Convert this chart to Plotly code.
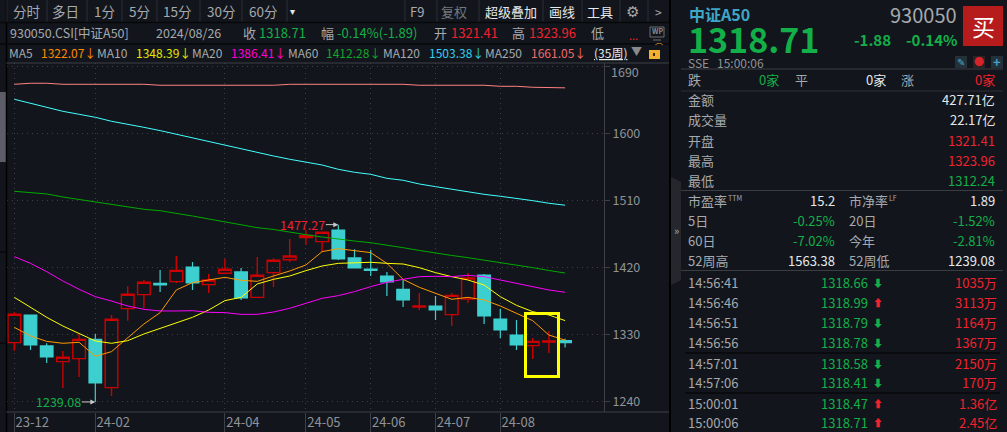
import plotly.graph_objects as go

WIDTH = 1007
HEIGHT = 432

BG = "#12161c"
GRID = "#3c4046"
AXIS = "#3d3f44"
GRAY = "#8f9398"
LABEL = "#a6a9ad"
WHITE = "#e6e8ea"
RED = "#f0222e"
GREEN = "#13b04a"
CANDLE_RED = "#cc0000"
CANDLE_CYAN = "#3dcfcf"
FONT = "Noto Sans CJK SC"

# weekly candles, 35 weeks
weeks = list(range(35))
opens = [1318.75, 1355.9, 1314.3, 1293.2, 1297.3, 1323.2, 1258.3, 1364.4, 1383.2, 1398.5, 1400.7, 1420.4,
         1396.7, 1411.9, 1413.7, 1379.6, 1412.8, 1430.2, 1459.8, 1454.4, 1470.1, 1432.5, 1417.7, 1408.3,
         1390.4, 1366.7, 1368.0, 1356.4, 1377.4, 1409.6, 1350.5, 1329.0, 1314.7, 1319.6, 1321.41]
highs = [1359.5, 1355.9, 1317.9, 1307.6, 1330.4, 1330.4, 1355.9, 1394.4, 1402.9, 1416.4, 1435.2, 1427.1,
         1411.0, 1431.6, 1419.1, 1433.8, 1432.0, 1458.0, 1470.1, 1467.0, 1477.27, 1444.1, 1443.2, 1413.7,
         1402.9, 1385.5, 1381.4, 1385.5, 1412.3, 1411.0, 1364.0, 1349.2, 1325.0, 1334.4, 1323.96]
lows = [1308.0, 1308.9, 1291.4, 1257.9, 1272.6, 1239.08, 1247.1, 1348.3, 1364.9, 1386.8, 1398.9, 1389.5,
        1385.5, 1411.9, 1376.1, 1379.6, 1393.5, 1427.1, 1449.9, 1441.0, 1429.8, 1419.1, 1408.3, 1381.4,
        1366.7, 1362.6, 1349.2, 1341.1, 1372.0, 1343.8, 1325.0, 1308.9, 1296.8, 1304.9, 1312.24]
closes = [1356.81, 1315.6, 1299.5, 1299.1, 1323.2, 1264.6, 1350.1, 1383.7, 1399.8, 1396.2, 1415.9, 1398.9,
          1402.9, 1417.3, 1378.7, 1409.2, 1429.4, 1435.2, 1462.9, 1467.0, 1431.1, 1419.1, 1415.9, 1400.2,
          1376.1, 1368.0, 1362.6, 1382.3, 1405.6, 1354.6, 1335.8, 1315.6, 1320.5, 1321.0, 1318.71]

ma5 = [1339.3, 1327.7, 1320.5, 1317.9, 1319.2, 1300.4, 1306.7, 1324.6, 1343.8, 1359.1, 1389.5, 1399.4,
       1402.9, 1406.5, 1402.5, 1401.1, 1408.3, 1415.0, 1423.1, 1441.0, 1445.0, 1442.3, 1439.7, 1425.3,
       1403.8, 1393.1, 1385.0, 1377.0, 1379.6, 1376.1, 1368.0, 1358.2, 1348.3, 1329.0, 1322.07]
ma10 = [1379.6, 1366.2, 1352.8, 1341.1, 1331.3, 1321.0, 1317.9, 1321.4, 1330.4, 1338.0, 1344.7, 1352.8,
        1362.6, 1375.2, 1379.6, 1397.6, 1403.8, 1408.3, 1415.5, 1421.7, 1425.3, 1426.2, 1426.7, 1425.3,
        1424.4, 1419.5, 1412.8, 1407.4, 1402.9, 1396.2, 1380.5, 1368.9, 1360.4, 1355.9, 1348.39]
ma20 = [1434.3, 1425.3, 1414.1, 1401.6, 1390.4, 1380.5, 1374.7, 1368.0, 1363.5, 1361.3, 1361.3, 1361.7,
        1359.5, 1359.1, 1356.8, 1356.8, 1359.9, 1364.9, 1371.6, 1378.3, 1381.9, 1387.3, 1394.0, 1399.8,
        1403.8, 1407.4, 1407.9, 1407.4, 1409.2, 1407.4, 1402.9, 1398.5, 1394.9, 1389.5, 1386.41]
ma60 = [1522.1, 1520.8, 1518.5, 1514.4, 1511.3, 1508.1, 1504.1, 1501.4, 1497.9, 1496.0, 1492.9, 1488.9,
        1484.9, 1481.3, 1476.8, 1473.2, 1470.8, 1467.8, 1463.8, 1460.7, 1457.6, 1455.3, 1453.0, 1450.0,
        1446.3, 1442.6, 1438.8, 1435.9, 1432.9, 1429.8, 1426.7, 1423.1, 1419.5, 1415.7, 1412.28]
ma120 = [1645.7, 1640.3, 1634.9, 1629.5, 1625.5, 1621.5, 1616.1, 1612.5, 1608.0, 1603.6, 1598.6, 1594.2,
         1588.8, 1583.9, 1578.5, 1573.6, 1569.5, 1565.1, 1561.0, 1557.4, 1551.6, 1547.6, 1544.9, 1539.5,
         1536.9, 1531.9, 1528.3, 1524.8, 1520.7, 1518.0, 1515.4, 1512.7, 1509.5, 1506.0, 1503.38]
ma250 = [1665.8, 1667.2, 1667.2, 1665.8, 1665.8, 1665.8, 1665.8, 1665.8, 1665.8, 1664.5, 1664.5, 1664.5,
         1664.5, 1664.5, 1664.5, 1664.5, 1664.5, 1665.8, 1665.8, 1665.8, 1665.8, 1665.8, 1665.8, 1665.8,
         1665.8, 1664.5, 1664.5, 1664.5, 1664.5, 1664.5, 1663.1, 1663.1, 1661.8, 1661.8, 1661.05]

ma_names = ["MA5", "MA10", "MA20", "MA60", "MA120", "MA250"]
ma_series = [ma5, ma10, ma20, ma60, ma120, ma250]
ma_colors = ["#ff9900", "#ffff00", "#ff00ff", "#00aa00", "#40ffff", "#ff8080"]
ma_text_colors = ["#ff8a00", "#e6e600", "#ff00d0", "#11a52a", "#30d0f0", "#f06a6a"]
ma_name_x = [8, 96, 191, 287, 382, 484]
ma_value_x = [40, 135, 230, 325, 428, 530]

month_ticks = [0, 5, 13, 18, 22, 26, 30]
month_labels = ["23-12", "24-02", "24-04", "24-05", "24-06", "24-07", "24-08"]
price_ticks = [1240, 1330, 1420, 1510, 1600, 1690]
price_labels = ["1240", "1330", "1420", "1510", "1600", ""]

tabs = ["分时", "多日", "1分", "5分", "15分", "30分", "60分"]
tabs_x = [26, 65.5, 104, 139, 177.5, 221, 263.5]
tab_lines = [7, 47, 87, 122, 157, 200, 242, 287, 405, 437, 479, 543, 582, 620, 648]
tools = ["F9", "复权", "超级叠加", "画线", "工具"]
tools_x = [416.5, 454, 511, 561.5, 600]
tools_color = [LABEL, "#75787c", WHITE, WHITE, WHITE]

stat_names = ["金额", "成交量", "开盘", "最高", "最低"]
stat_values = ["427.71亿", "22.17亿", "1321.41", "1323.96", "1312.24"]
stat_colors = [WHITE, WHITE, RED, RED, GREEN]
stat_y = [101, 121, 142, 162, 182]

ratio_left = ["市盈率", "5日", "60日", "52周高"]
ratio_left_values = ["15.2", "-0.25%", "-7.02%", "1563.38"]
ratio_right = ["市净率", "20日", "今年", "52周低"]
ratio_right_values = ["1.89", "-1.52%", "-2.81%", "1239.08"]
ratio_colors = [WHITE, GREEN, GREEN, WHITE]
ratio_y = [202, 222, 242, 262]

trade_times = ["14:56:41", "14:56:46", "14:56:51", "14:56:56", "14:57:01", "14:57:06", "15:00:01", "15:00:06"]
trade_prices = ["1318.66", "1318.99", "1318.79", "1318.78", "1318.58", "1318.41", "1318.47", "1318.71"]
trade_up = [False, True, False, False, False, False, True, True]
trade_volumes = ["1035万", "3113万", "1164万", "1367万", "2150万", "170万", "1.36亿", "2.45亿"]
trade_y = [284, 304, 324, 344, 364.5, 383.5, 404.5, 424]


def px_x(x):
    return x / WIDTH


def px_y(y):
    return 1 - y / HEIGHT


annotations = []
shapes = []


def label(x, y, text, color=WHITE, size=13, anchor="left", bold=False):
    if bold:
        text = f"<b>{text}</b>"
    annotations.append(
        dict(
            x=px_x(x), y=px_y(y - 1.5), xref="paper", yref="paper", text=text, showarrow=False,
            xanchor=anchor, yanchor="middle", borderpad=0,
            font=dict(family=FONT, size=size, color=color),
        )
    )


def rect(x0, y0, x1, y1, fill, line=None, width=0):
    shapes.append(
        dict(
            type="rect", xref="paper", yref="paper", layer="above",
            x0=px_x(x0), x1=px_x(x1), y0=px_y(y0), y1=px_y(y1),
            fillcolor=fill, line=dict(color=line or fill, width=width),
        )
    )


def line(x0, y0, x1, y1, color, width=1):
    shapes.append(
        dict(
            type="line", xref="paper", yref="paper", layer="above",
            x0=px_x(x0), x1=px_x(x1), y0=px_y(y0), y1=px_y(y1),
            line=dict(color=color, width=width),
        )
    )


fig = go.Figure()
fig.add_trace(
    go.Candlestick(
        x=weeks, open=opens, high=highs, low=lows, close=closes,
        increasing=dict(line=dict(color=CANDLE_RED, width=1.4), fillcolor="rgba(0,0,0,0)"),
        decreasing=dict(line=dict(color=CANDLE_CYAN, width=1.2), fillcolor=CANDLE_CYAN),
        whiskerwidth=0, hoverinfo="skip",
    )
)
for name, values, color in zip(ma_names, ma_series, ma_colors):
    fig.add_trace(go.Scatter(x=weeks, y=values, mode="lines", name=name, line=dict(color=color, width=1)))

# left edge, cut off neighbour panel
rect(0, 92, 6, 162, "#5c5d68")
line(0, 252, 6, 252, "#000000")
line(0, 343, 6, 343, "#000000")
line(6.5, 0, 6.5, 432, "#000000", 1.5)

# toolbar
for x in tab_lines:
    line(x, 0, x, 22, "#2a2d32")
line(0, 22.5, 669, 22.5, "#06080a", 1.5)
line(0, 44, 669, 44, "#06080a", 1.5)
line(6, 63, 669, 63, AXIS)
line(6, 412, 669, 412, AXIS)
for text, x in zip(tabs, tabs_x):
    label(x, 13, text, LABEL, 13.5, "center")
label(292, 12, "▾", WHITE, 10, "center")
for text, x, color in zip(tools, tools_x, tools_color):
    label(x, 13, text, color, 13, "center")
label(632, 12, "⚙", LABEL, 15, "center")
label(658, 13, ">", LABEL, 12, "center")

# info row
label(9, 34, "930050.CSI[中证A50]", LABEL, 12.5)
label(155, 34, "2024/08/26", LABEL, 12.5)
label(242, 34, "收", LABEL, 13)
label(258, 34, "1318.71", GREEN, 13)
label(320, 34, "幅", LABEL, 13)
label(336, 34, "-0.14%(-1.89)", GREEN, 13)
label(433, 34, "开", LABEL, 13)
label(450, 34, "1321.41", RED, 13)
label(511, 34, "高", LABEL, 13)
label(528, 34, "1323.96", RED, 13)
label(590, 34, "低", LABEL, 13)
label(628, 36, "...", RED, 11)
rect(650, 27, 664, 37, BG, "#6a6c70", 1)
label(657, 33, "WP", "#8a8c90", 7, "center", True)
line(653, 40, 661, 40, "#6a6c70")

# moving average row
for name, values, color, name_x, value_x in zip(ma_names, ma_series, ma_text_colors, ma_name_x, ma_value_x):
    label(name_x, 54, name, LABEL, 12)
    label(value_x, 54, f"{values[-1]:.2f}↓", color, 12)
label(593, 54, "<u>(35周)</u>", WHITE, 12)
label(636, 52, "▼", "#8a8a8a", 11, "center")
rect(649, 50, 660, 59, "#f0b030")
rect(653, 53, 655, 56, "#3a2c08")
label(659, 48, "⌒", "#f0b030", 8, "center")

# price labels
label(279, 226, "1477.27", RED, 12.5)
label(35, 402.5, "1239.08", GREEN, 12.5)
annotations.append(
    dict(x=20, y=1477.27, xref="x", yref="y", ax=-14, ay=0, axref="pixel", ayref="pixel", text="",
         arrowhead=2, arrowsize=1, arrowwidth=1, arrowcolor="#c8c8c8", xshift=0)
)
annotations.append(
    dict(x=5, y=1239.08, xref="x", yref="y", ax=-15, ay=0, axref="pixel", ayref="pixel", text="",
         arrowhead=2, arrowsize=1, arrowwidth=1, arrowcolor="#c8c8c8")
)
label(610, 73, "1690", GRAY, 12.5)

# highlight box
rect(525.5, 313.5, 558.5, 376.5, "rgba(0,0,0,0)", "#ffff00", 3)

# right panel
rect(670, 0, 1007, 432, BG)
line(670, 0, 670, 432, "#000000", 2)
shapes.append(
    dict(
        type="path", xref="paper", yref="paper", layer="above",
        path=f"M {px_x(671)} {px_y(177)} L {px_x(681)} {px_y(182)} L {px_x(681)} {px_y(280)} L {px_x(671)} {px_y(285)} Z",
        fillcolor="#25272c", line=dict(width=0),
    )
)
label(676, 232, "»", LABEL, 11, "center")

label(688, 16, "中证A50", "#3fa6c8", 16, bold=True)
label(687, 40, "1318.71", GREEN, 34, bold=True)
label(958, 16, "930050", LABEL, 20, "right")
label(892, 41, "-1.88", GREEN, 15, "right", True)
label(958, 41, "-0.14%", GREEN, 15, "right", True)
rect(963, 6, 1003, 46, "#b71c1c")
label(983, 27, "买", "#ffffff", 23, "center")
label(687, 64, "SSE", GRAY, 12)
label(716, 64, "15:00:06", GRAY, 12)
rect(955, 56, 967, 68, "#24303a")
label(961, 63, "✎", "#3fa6c8", 10, "center")
rect(973, 56, 985, 68, "#2c2226")
label(979, 63, "●", "#d8232a", 10, "center")
rect(991, 56, 1003, 68, "#24303a")
label(997, 63, "+", "#3fa6c8", 13, "center", True)

line(681, 69, 1003, 69, "#3a3d42", 1.2)
line(681, 91, 1003, 91, "#2c2f34")
line(681, 190.5, 1003, 190.5, "#3a3d42")
line(681, 270.5, 1003, 270.5, "#3a3d42")
line(685, 353, 1000, 353, "#000000")
line(685, 393, 1000, 393, "#000000")

label(687, 81, "跌", LABEL, 13)
label(780, 81, "0家", GREEN, 13, "right")
label(794, 81, "平", LABEL, 13)
label(887, 81, "0家", WHITE, 13, "right")
label(900, 81, "涨", LABEL, 13)
label(996, 81, "0家", RED, 13, "right")

for name, value, color, y in zip(stat_names, stat_values, stat_colors, stat_y):
    label(687, y, name, LABEL, 13)
    label(996, y, value, color, 13, "right")

for i, y in enumerate(ratio_y):
    label(687, y, ratio_left[i], LABEL, 13)
    label(836, y, ratio_left_values[i], ratio_colors[i], 13, "right")
    label(848, y, ratio_right[i], LABEL, 13)
    label(996, y, ratio_right_values[i], ratio_colors[i], 13, "right")
label(727, 199, "TTM", LABEL, 7)
label(888, 199, "LF", LABEL, 7)

for time, price, up, volume, y in zip(trade_times, trade_prices, trade_up, trade_volumes, trade_y):
    label(687, y, time, LABEL, 13)
    label(869, y, price, GREEN, 13, "right")
    label(878, y, "⬆" if up else "⬇", RED if up else GREEN, 10, "center")
    label(998, y, volume, RED, 13, "right")

x_per_week = 16.2
first_week_px = 14.3
plot_left = 6.5
plot_right = 604
plot_top = 63
plot_bottom = 412

fig.update_layout(
    width=WIDTH,
    height=HEIGHT,
    margin={"l": 0, "r": 0, "t": 0, "b": 0},
    autosize=False,
    showlegend=False,
    hovermode=False,
    paper_bgcolor=BG,
    plot_bgcolor=BG,
    boxmode="overlay",
    boxgap=0.22,
    boxgroupgap=0,
    shapes=shapes,
    annotations=annotations,
    font=dict(family=FONT, color=GRAY),
)
fig.update_xaxes(
    domain=[px_x(plot_left), px_x(plot_right)],
    range=[(plot_left - first_week_px) / x_per_week, (plot_right - first_week_px) / x_per_week],
    rangeslider_visible=False,
    tickmode="array",
    tickvals=month_ticks,
    ticktext=month_labels,
    ticks="outside",
    ticklen=20,
    tickcolor=AXIS,
    ticklabelshift=18,
    ticklabelstandoff=-22,
    tickfont=dict(family=FONT, size=13, color=GRAY),
    showgrid=True,
    gridcolor=GRID,
    griddash="1px,4px",
    zeroline=False,
    showline=False,
)
fig.update_yaxes(
    domain=[px_y(plot_bottom), px_y(plot_top)],
    range=[1225.6, 1694.4],
    side="right",
    tickmode="array",
    tickvals=price_ticks,
    ticktext=price_labels,
    ticks="outside",
    ticklen=5,
    tickcolor=AXIS,
    tickfont=dict(family=FONT, size=12.5, color=GRAY),
    showgrid=True,
    gridcolor=GRID,
    griddash="1px,4px",
    zeroline=False,
    showline=True,
    linecolor=AXIS,
)

fig.write_html(
    "out.html",
    config={"displayModeBar": False},
    post_script="document.body.style.margin='0';document.body.style.background='#12161c';",
)
